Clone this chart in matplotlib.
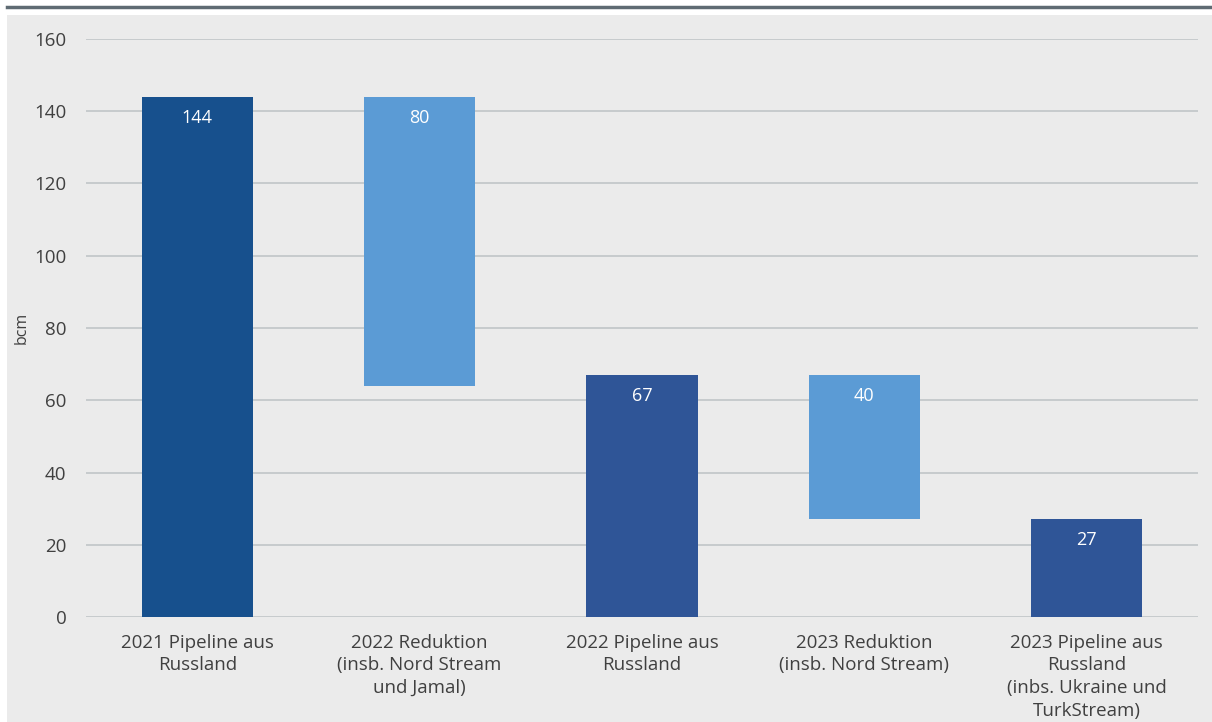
import matplotlib.pyplot as plt
from matplotlib.patches import Rectangle
from matplotlib.lines import Line2D

# ----- DATA -----
categories = [
    "2021 Pipeline aus\nRussland",
    "2022 Reduktion\n(insb. Nord Stream\nund Jamal)",
    "2022 Pipeline aus\nRussland",
    "2023 Reduktion\n(insb. Nord Stream)",
    "2023 Pipeline aus\nRussland\n(inbs. Ukraine und\nTurkStream)",
]
values = [144, 80, 67, 40, 27]
is_reduction = [False, True, False, True, False]
yticks = [0, 20, 40, 60, 80, 100, 120, 140, 160]

colors = ["#17508d", "#5b9bd5", "#2f5597", "#5b9bd5", "#2f5597"]
text_color = "#404040"

plt.rcParams['font.family'] = ['Open Sans', 'DejaVu Sans']

fig = plt.figure(figsize=(12.12, 7.22), dpi=100, facecolor='white')

# gray panel + top rule
fig.patches.append(Rectangle((7 / 1212, 0), 1 - 7 / 1212, 1 - 15 / 722,
                             transform=fig.transFigure, facecolor='#ebebeb',
                             edgecolor='none', zorder=-10))
fig.lines.append(Line2D([7 / 1212, 1], [1 - 7 / 722, 1 - 7 / 722],
                        transform=fig.transFigure, color='#5f6b73', lw=2.5))

ax = fig.add_axes([86 / 1212, (722 - 617) / 722, 1112 / 1212, 578 / 722])
ax.set_facecolor('none')

# waterfall bottoms: reductions hang from the previous total
bottoms = []
running = 0
for v, red in zip(values, is_reduction):
    if red:
        bottoms.append(running - v)
        running = running - v
    else:
        bottoms.append(0)
        running = v

x = list(range(len(values)))
ax.bar(x, values, bottom=bottoms, width=0.5, color=colors, zorder=3)

for xi, v, b in zip(x, values, bottoms):
    ax.annotate(str(v), (xi, b + v), xytext=(0, -15), textcoords='offset points',
                ha='center', va='center', color='white', fontsize=13, zorder=4)

ax.set_xlim(-0.5, 4.5)
ax.set_ylim(0, 160)
ax.set_yticks(yticks)
ax.yaxis.grid(True, color='#c4c8ca', lw=1.3, zorder=0)
ax.set_axisbelow(True)
for s in ax.spines.values():
    s.set_visible(False)
ax.tick_params(axis='both', length=0, colors=text_color, labelsize=13.5)
ax.tick_params(axis='y', pad=14)
ax.tick_params(axis='x', pad=12)
ax.set_xticks(x)
ax.set_xticklabels(categories, linespacing=1.33)
ax.set_ylabel("bcm", color=text_color, fontsize=11.5)
ax.yaxis.set_label_coords(-56 / 1112, 0.5)

fig.savefig("out.png", dpi=100, facecolor='white')
